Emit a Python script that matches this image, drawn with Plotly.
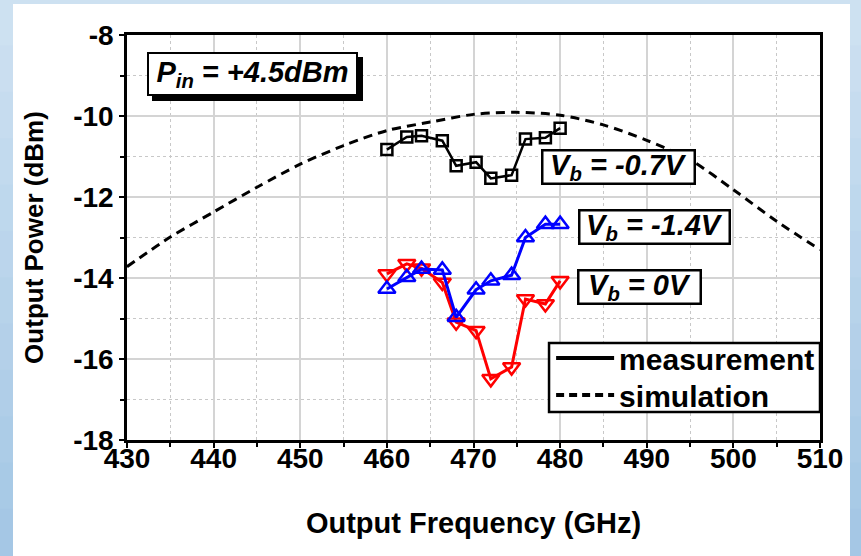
import plotly.graph_objects as go

# ---- data ----
freq_meas = [460, 462.3, 464, 466.4, 468, 470.3, 472, 474.4, 476, 478.3, 480]
p_vb_07 = [-10.83, -10.52, -10.49, -10.61, -11.23, -11.14, -11.54, -11.46, -10.57, -10.54, -10.30]
p_vb_14 = [-14.27, -13.98, -13.78, -13.80, -14.97, -14.29, -14.07, -13.93, -13.00, -12.67, -12.67]
p_vb_0 = [-13.90, -13.65, -13.76, -14.11, -15.09, -15.30, -16.49, -16.20, -14.52, -14.64, -14.07]

freq_sim = [430, 435, 440, 445, 450, 455, 460, 465, 470, 475, 480, 485, 490, 495, 500, 505, 510]
p_sim = [-13.72, -12.99, -12.37, -11.76, -11.19, -10.73, -10.36, -10.15, -9.96, -9.91,
         -9.98, -10.22, -10.60, -11.08, -11.82, -12.60, -13.30]

x_ticks = [430, 440, 450, 460, 470, 480, 490, 500, 510]
y_ticks = [-18, -16, -14, -12, -10, -8]

ARIAL = "Liberation Sans, Arial, sans-serif"

fig = go.Figure()

# simulation (dashed)
fig.add_trace(go.Scatter(x=freq_sim, y=p_sim, mode="lines",
                         line=dict(color="black", width=3, dash="9px,6px", shape="spline", smoothing=0.8),
                         showlegend=False, hoverinfo="skip"))

fig.add_trace(go.Scatter(x=freq_meas, y=p_vb_07, mode="lines+markers",
                         line=dict(color="black", width=2.5),
                         marker=dict(symbol="square-open", size=11, color="black", line=dict(width=2.5)),
                         showlegend=False))
fig.add_trace(go.Scatter(x=freq_meas, y=p_vb_0, mode="lines+markers",
                         line=dict(color="#ff0000", width=3),
                         marker=dict(symbol="triangle-down-open", size=15, color="#ff0000", line=dict(width=2.5)),
                         showlegend=False))
fig.add_trace(go.Scatter(x=freq_meas, y=p_vb_14, mode="lines+markers",
                         line=dict(color="#0000ff", width=3),
                         marker=dict(symbol="triangle-up-open", size=15, color="#0000ff", line=dict(width=2.5)),
                         showlegend=False))

# legend entries (two separate legends so row spacing can match the reference)
fig.add_trace(go.Scatter(x=[None], y=[None], mode="lines", name="measurement",
                         line=dict(color="black", width=4), legend="legend"))
fig.add_trace(go.Scatter(x=[None], y=[None], mode="lines", name="simulation",
                         line=dict(color="black", width=4, dash="8px,5px"), legend="legend2"))

# blue page frame with a soft vertical gradient
n_band = 12
top_rgb, bot_rgb = (207, 226, 242), (163, 198, 228)
y_lo, y_hi = -0.2864, 1.0864
for i in range(n_band):
    t = (i + 0.5) / n_band
    c = tuple(int(round(top_rgb[k] + (bot_rgb[k] - top_rgb[k]) * t)) for k in range(3))
    fig.add_shape(type="rect", xref="paper", yref="paper", x0=-0.19, x1=1.07,
                  y0=y_hi - (i + 1) * (y_hi - y_lo) / n_band - 0.002,
                  y1=y_hi - i * (y_hi - y_lo) / n_band + 0.002,
                  fillcolor="rgb(%d,%d,%d)" % c, line=dict(width=0), layer="below")

# white page panel inside the blue frame
fig.add_shape(type="rect", xref="paper", yref="paper", x0=-0.1645, x1=1.0433, y0=-0.30, y1=1.0765,
              fillcolor="white", line=dict(width=0), layer="below")
# legend frame
fig.add_shape(type="rect", xref="paper", yref="paper", x0=0.609, x1=1.0, y0=0.069, y1=0.2395,
              fillcolor="white", line=dict(width=2.5, color="black"), layer="above")

# Pin box with shadow
pin_text = "<i>P<sub>in</sub> = +4.5dBm</i>"
fig.add_annotation(x=432.3, y=-8.96, xref="x", yref="y", xanchor="left", yanchor="middle",
                   text=" ", font=dict(family=ARIAL, size=29, color="black"),
                   bgcolor="black", bordercolor="black", borderwidth=2, borderpad=0,
                   width=207, height=40, showarrow=False, xshift=5, yshift=-5)
fig.add_annotation(x=432.3, y=-8.96, xref="x", yref="y", xanchor="left", yanchor="middle",
                   text=pin_text, font=dict(family=ARIAL, size=29, color="black", weight="bold"),
                   bgcolor="white", bordercolor="black", borderwidth=2, borderpad=0,
                   width=207, height=40, showarrow=False)

for xx, yy, txt, w in [(477.8, -11.27, "<i>V<sub>b</sub> = -0.7V</i>", 150),
                       (482.1, -12.74, "<i>V<sub>b</sub> = -1.4V</i>", 148),
                       (481.9, -14.23, "<i>V<sub>b</sub> = 0V</i>", 120)]:
    fig.add_annotation(x=xx, y=yy, xref="x", yref="y", xanchor="left", yanchor="middle",
                       text=txt, font=dict(family=ARIAL, size=29, color="black", weight="bold"),
                       bgcolor="white", bordercolor="black",
                       borderwidth=2.5, borderpad=0, width=w, height=31, showarrow=False)

axis_common = dict(showline=True, linecolor="black", linewidth=2.5, mirror=True,
                   ticks="outside", tickcolor="black", tickwidth=2, ticklen=5,
                   showgrid=True, gridcolor="#d4d4d4", gridwidth=1.5, zeroline=False,
                   tickfont=dict(family=ARIAL, size=28, color="black", weight="bold"))

fig.update_xaxes(range=[430, 510], tickvals=x_ticks, ticktext=[str(v) for v in x_ticks],
                 ticklabelstandoff=-13,
                 minor=dict(dtick=5, tick0=430, showgrid=True, griddash="dot", gridcolor="#c8c8c8",
                            gridwidth=1, ticks="outside", ticklen=4, tickcolor="black", tickwidth=2),
                 title=dict(text="Output Frequency (GHz)", standoff=40,
                            font=dict(family=ARIAL, size=29, color="black", weight="bold")),
                 **axis_common)
fig.update_yaxes(range=[-18, -8], tickvals=y_ticks, ticktext=[str(v) for v in y_ticks],
                 minor=dict(dtick=1, tick0=-18, showgrid=True, griddash="dot", gridcolor="#c8c8c8",
                            gridwidth=1, ticks="outside", ticklen=4, tickcolor="black", tickwidth=2),
                 title=dict(text="Output Power (dBm)", standoff=23,
                            font=dict(family=ARIAL, size=26, color="black", weight="bold")),
                 **axis_common)

leg_common = dict(bgcolor="rgba(0,0,0,0)", borderwidth=0, xanchor="left", yanchor="middle",
                  font=dict(family=ARIAL, size=30, color="black", weight="bold"), itemwidth=58)
fig.update_layout(
    width=861, height=556,
    margin=dict(l=127, r=41, t=35, b=116),
    paper_bgcolor="#bcd6ec", plot_bgcolor="white",
    showlegend=True,
    legend=dict(x=0.612, y=0.2025, **leg_common),
    legend2=dict(x=0.612, y=0.111, **leg_common),
)

fig.write_html("out.html")
